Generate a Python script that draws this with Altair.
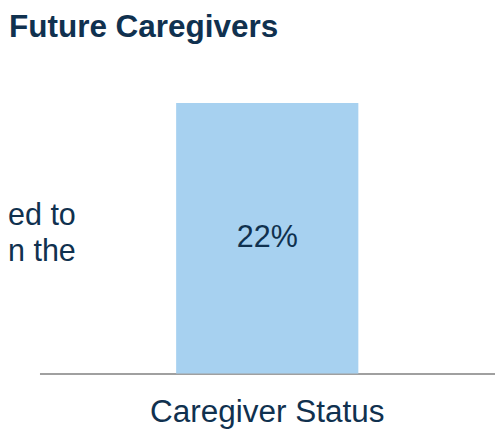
import altair as alt
import pandas as pd

categories = ["Caregiver Status"]
values = [22]
value_labels = ["22%"]
side_text = ["ed to", "n the"]
title_text = "Future Caregivers"

NAVY = "#10314f"
BAR = "#a7d1f0"
FONT = "Liberation Sans"

df = pd.DataFrame({"cat": categories, "val": values, "lab": value_labels})

x = alt.X("cat:N", title=None, scale=alt.Scale(paddingInner=0, paddingOuter=0),
          axis=alt.Axis(ticks=False, tickSize=0, grid=False, domainColor="#a0a0a0",
                        domainWidth=2, labelFont=FONT, labelFontSize=32,
                        labelColor=NAVY, labelBaseline="alphabetic", labelPadding=49,
                        labelAngle=0, labelLimit=0))
yscale = alt.Scale(domain=[0, 29.44], nice=False, zero=True)

base = alt.Chart(df)

bars = base.mark_bar(color=BAR, width=alt.RelativeBandSize(0.4)).encode(
    x=x,
    y=alt.Y("val:Q", scale=yscale, axis=None),
)

labels = base.transform_calculate(mid="datum.val / 2").mark_text(
    font=FONT, fontSize=31, color=NAVY, baseline="middle", align="center"
).encode(
    x=alt.X("cat:N"),
    y=alt.Y("mid:Q", scale=yscale, axis=None),
    text="lab:N",
)

side = alt.Chart(pd.DataFrame({"t": [side_text]})).mark_text(
    font=FONT, fontSize=31, color=NAVY, align="left", baseline="alphabetic",
    lineHeight=37,
).encode(
    x=alt.value(-32),
    y=alt.value(217),
    text="t",
)

title = alt.Chart(pd.DataFrame({"t": [title_text]})).mark_text(
    font=FONT, fontSize=32, fontWeight="bold", color=NAVY, align="left",
    baseline="alphabetic",
).encode(
    x=alt.value(-31),
    y=alt.value(26),
    text="t",
)

chart = alt.layer(bars, labels, side, title).properties(
    width=463,
    height=368,
    autosize=alt.AutoSizeParams(type="none"),
    padding={"left": 32, "top": 0, "right": 0, "bottom": 57},
).configure(background="white").configure_view(stroke=None)

chart.save("out.html", embed_options={"renderer": "svg", "actions": False})
